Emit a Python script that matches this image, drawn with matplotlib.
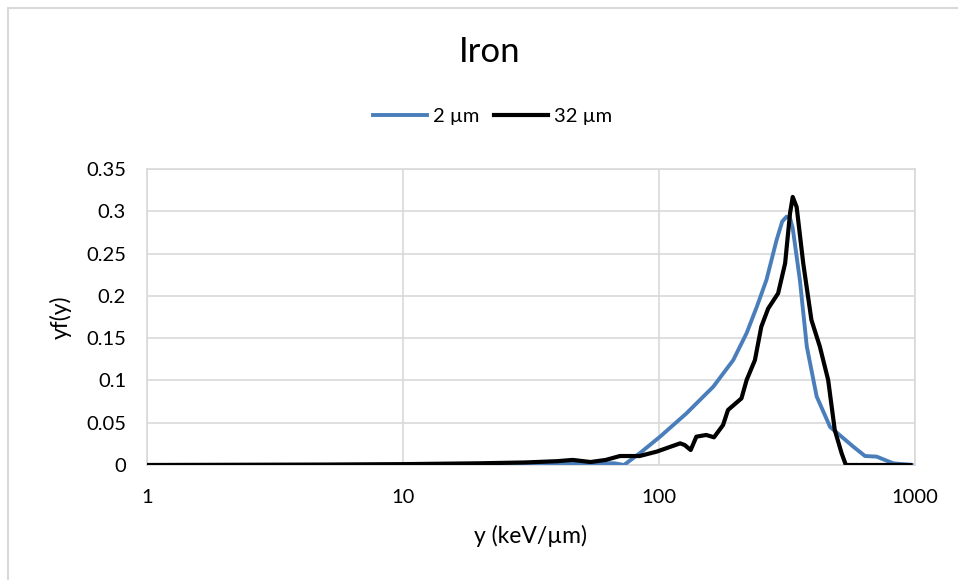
import matplotlib.pyplot as plt
from matplotlib.patches import Rectangle
from matplotlib.ticker import FixedLocator, NullLocator

plt.rcParams['font.family'] = ['Lato', 'DejaVu Sans']

# y (keV/um) and yf(y)
y_2um = [1, 5, 10, 20, 40, 59, 67, 73, 85, 101, 128, 163, 195, 220, 241, 263, 288,
         303, 315, 325, 333, 355, 378, 413, 466, 574, 638, 708, 822, 970]
f_2um = [0.0, 0.0001, 0.0003, 0.0007, 0.0012, 0.002, 0.002, 0.0, 0.015, 0.0335, 0.061,
         0.0926, 0.124, 0.156, 0.187, 0.219, 0.266, 0.288, 0.2936, 0.292, 0.280, 0.219,
         0.140, 0.081, 0.045, 0.0217, 0.0106, 0.0099, 0.002, 0.0]

y_32um = [1, 5, 10, 20, 30, 40, 46, 54, 62, 70.4, 84, 98, 121, 126, 133, 140, 153, 164,
          178, 186, 210, 220, 237, 251, 267, 292, 311, 325, 333, 345, 366, 394, 425, 458,
          486, 517, 537, 960]
f_32um = [0.0, 0.0005, 0.001, 0.002, 0.003, 0.0045, 0.006, 0.0035, 0.006, 0.0106, 0.0106,
          0.0158, 0.0256, 0.0236, 0.0177, 0.0335, 0.0355, 0.0327, 0.0473, 0.065, 0.0788,
          0.1005, 0.124, 0.1635, 0.185, 0.203, 0.2385, 0.2976, 0.317, 0.305, 0.2385,
          0.1715, 0.140, 0.1005, 0.0414, 0.0138, 0.0, 0.0]

x_ticks = [1, 10, 100, 1000]
y_ticks = [0, 0.05, 0.1, 0.15, 0.2, 0.25, 0.3, 0.35]
y_labels = ['0', '0.05', '0.1', '0.15', '0.2', '0.25', '0.3', '0.35']

fig = plt.figure(figsize=(9.58, 5.80), dpi=100)
ax = fig.add_axes([0.1534, 0.1983, 0.9551 - 0.1534, 0.7086 - 0.1983])

# chart border
fig.patches.append(Rectangle((8 / 958, -0.1), 1.2, 1 - 8 / 580 + 0.1, transform=fig.transFigure,
                             fill=False, edgecolor='#d9d9d9', linewidth=1.5))

ax.plot(y_2um, f_2um, color='#4a7ebb', linewidth=2.8, label='2 µm', zorder=3,
        solid_joinstyle='round')
ax.plot(y_32um, f_32um, color='black', linewidth=3.0, label='32 µm', zorder=4,
        solid_joinstyle='round')

ax.set_xscale('log')
ax.set_xlim(1, 1000)
ax.set_ylim(0, 0.35)
ax.xaxis.set_major_locator(FixedLocator(x_ticks))
ax.xaxis.set_minor_locator(NullLocator())
ax.set_xticklabels([str(v) for v in x_ticks])
ax.set_yticks(y_ticks)
ax.set_yticklabels(y_labels)
ax.tick_params(length=0, labelsize=14.5, colors='#000000')
ax.tick_params(axis='y', pad=15)
ax.tick_params(axis='x', pad=17)
ax.grid(True, color='#d9d9d9', linewidth=1.2)
ax.set_axisbelow(True)
for s in ax.spines.values():
    s.set_color('#d9d9d9')
    s.set_linewidth(1.2)

ax.set_xlabel('y (keV/µm)', fontsize=16.5, labelpad=14)
ax.set_ylabel('yf(y)', fontsize=16.5, labelpad=10)

fig.text(0.511, 0.91, 'Iron', fontsize=25, ha='center', va='center')
fig.legend(loc='center', bbox_to_anchor=(0.514, 0.799), ncol=2, frameon=False,
           fontsize=14.5, handlelength=2.7, columnspacing=0.7, handletextpad=0.3)

fig.savefig('out.png', dpi=100)
